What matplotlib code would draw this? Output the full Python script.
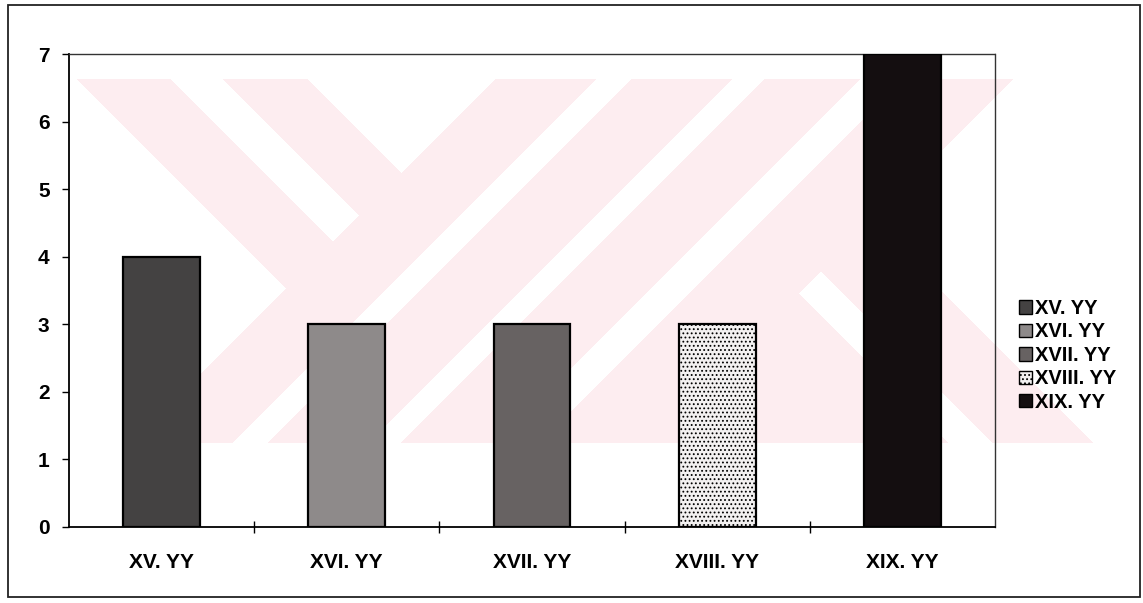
import numpy as np
import matplotlib
matplotlib.use("Agg")
import matplotlib.pyplot as plt
from matplotlib.patches import Rectangle, Patch

# Chart data
categories = ["XV. YY", "XVI. YY", "XVII. YY", "XVIII. YY", "XIX. YY"]
counts = [4, 3, 3, 3, 7]
y_ticks = [0, 1, 2, 3, 4, 5, 6, 7]

bar_colors = ["#444242", "#8e8a8a", "#676262", "#f3f1f1", "#140e10"]
bar_hatches = [None, None, None, "....", None]

W, H, DPI = 1143, 603, 100
plt.rcParams["font.family"] = ["Liberation Sans", "DejaVu Sans"]
plt.rcParams["hatch.color"] = "#4a4a4a"
plt.rcParams["hatch.linewidth"] = 0.8

fig = plt.figure(figsize=(W / DPI, H / DPI), dpi=DPI, facecolor="white")

# Light pink striped backdrop (pixel grid, row 0 at the top)
yy, xx = np.mgrid[0:H, 0:W] + 0.5
u = xx - yy
v = xx + yy
band = (yy >= 79) & (yy <= 443)
pink = (v >= 575) | ((u >= -2) & (u <= 91)) | ((u >= 144) & (u <= 228))
for lo, hi in [(676, 710), (812, 843), (940, 982)]:
    pink &= ~((v >= lo) & (v <= hi))
right_part = v > 1092
pink &= ~(right_part & ~(((u >= 550) & (u <= 650)) | (u < 506)))
pink &= band
img = np.zeros((H, W, 4), dtype=float)
img[..., 0] = 253 / 255
img[..., 1] = 237 / 255
img[..., 2] = 240 / 255
img[..., 3] = pink.astype(float)
fig.figimage(img, xo=0, yo=0, origin="upper", zorder=-5)

# Plot area
left, right, top, bottom = 69, 995, 54, 527
ax = fig.add_axes([left / W, 1 - bottom / H, (right - left) / W, (bottom - top) / H])
ax.patch.set_alpha(0)

x = np.arange(len(categories))
bars = ax.bar(x, counts, width=0.415, color=bar_colors, edgecolor="black",
              linewidth=1.6, zorder=3)
for b, h in zip(bars, bar_hatches):
    if h:
        b.set_hatch(h)

ax.set_xlim(-0.5, len(categories) - 0.5)
ax.set_ylim(0, 7)
ax.set_yticks(y_ticks)
ax.set_yticklabels([str(t) for t in y_ticks])
ax.tick_params(axis="y", direction="out", length=5, width=1, pad=9,
               labelsize=15, colors="black")

# Category boundaries as major ticks, names centred on minor ticks
ax.set_xticks(np.arange(0.5, len(categories) - 0.5, 1.0))
ax.set_xticklabels([])
ax.set_xticks(x, minor=True)
ax.set_xticklabels(categories, minor=True, fontsize=15, fontweight="bold")
ax.tick_params(axis="x", which="major", direction="inout", length=9, width=1)
ax.tick_params(axis="x", which="minor", length=0, pad=19)
for lab in ax.get_yticklabels():
    lab.set_fontweight("bold")

for side in ["left", "bottom"]:
    ax.spines[side].set_color("black")
    ax.spines[side].set_linewidth(1.3)
ax.spines["top"].set_color("#333333")
ax.spines["top"].set_linestyle((0, (1.5, 1)))
ax.spines["top"].set_linewidth(1.0)
ax.spines["right"].set_color("#333333")
ax.spines["right"].set_linewidth(1.0)

# Legend
handles = [Patch(facecolor=c, edgecolor="black", linewidth=1.0, hatch=h)
           for c, h in zip(bar_colors, bar_hatches)]
leg = fig.legend(handles, categories, loc="upper left",
                 bbox_to_anchor=(1013 / W, 1 - 293 / H),
                 prop={"size": 14.5, "weight": "bold"}, frameon=True,
                 fancybox=False, edgecolor="#222222", framealpha=0,
                 borderpad=0.3, labelspacing=0.22, handlelength=0.65,
                 handleheight=0.65, handletextpad=0.15, borderaxespad=0)
leg.get_frame().set_linewidth(1.0)

# Outer chart frame
fig.add_artist(Rectangle((8 / W, 1 - 597 / H), (1140 - 8) / W, (597 - 5) / H,
                         transform=fig.transFigure, fill=False,
                         edgecolor="#222222", linewidth=1.3))

fig.savefig("out.png", dpi=DPI, facecolor="white")
